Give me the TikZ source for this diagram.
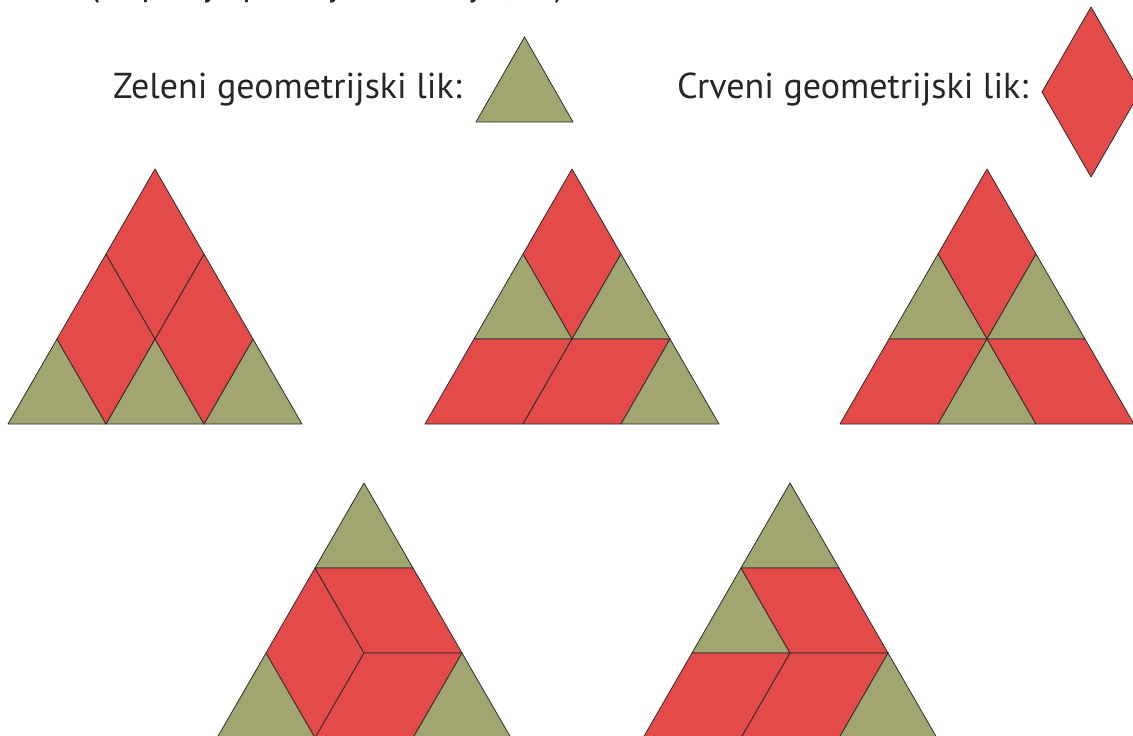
\documentclass[tikz,border=0pt]{standalone}
\usepackage{fontspec}
\setmainfont{PT Sans}
\definecolor{likred}{RGB}{227,74,72}
\definecolor{likgreen}{RGB}{161,166,112}
\definecolor{likedge}{RGB}{45,45,45}
\tikzset{
  redlik/.style={fill=likred, draw=likedge, line width=0.8pt, line join=round},
  greenlik/.style={fill=likgreen, draw=likedge, line width=0.8pt, line join=round},
  liktext/.style={font=\fontsize{36}{43}\selectfont, text=black!85, inner sep=0pt, anchor=base west},
}
% lattice points of one big triangle, bottom-left corner at (#1,#2)
\newcommand{\likgrid}[2]{%
  \foreach \r in {0,...,3}
    \foreach \i in {0,...,3}
      \coordinate (p\r\i) at ({#1+98*(\i+\r/2)},{#2-85*\r});
}
\begin{document}
\begin{tikzpicture}[x=1pt, y=-1pt]
  \useasboundingbox (0,0) rectangle (1133,736);

  % text
  \node[liktext] (uputa) at (89,-5) {(Napiši je pod njim i za njih, ...)};
  \node[liktext] (zeleni) at (113,98) {Zeleni geometrijski lik:};
  \node[liktext] (crveni) at (677,98) {Crveni geometrijski lik:};

  % legend
  \draw[greenlik] (476,122) -- (573,122) -- (524.5,37) -- cycle;
  \draw[redlik] (1091,7) -- (1042,92) -- (1091,177) -- (1140,92) -- cycle;

  % first triangle
  \likgrid{8}{424}
  \draw[greenlik] (p00) -- (p01) -- (p10) -- cycle;
  \draw[greenlik] (p01) -- (p02) -- (p11) -- cycle;
  \draw[greenlik] (p02) -- (p03) -- (p12) -- cycle;
  \draw[redlik] (p01) -- (p10) -- (p20) -- (p11) -- cycle;
  \draw[redlik] (p02) -- (p11) -- (p21) -- (p12) -- cycle;
  \draw[redlik] (p11) -- (p20) -- (p30) -- (p21) -- cycle;

  % second triangle
  \likgrid{425}{424}
  \draw[redlik] (p11) -- (p20) -- (p30) -- (p21) -- cycle;
  \draw[greenlik] (p10) -- (p11) -- (p20) -- cycle;
  \draw[greenlik] (p11) -- (p12) -- (p21) -- cycle;
  \draw[redlik] (p00) -- (p01) -- (p11) -- (p10) -- cycle;
  \draw[redlik] (p01) -- (p02) -- (p12) -- (p11) -- cycle;
  \draw[greenlik] (p02) -- (p03) -- (p12) -- cycle;

  % third triangle
  \likgrid{840}{424}
  \draw[redlik] (p11) -- (p20) -- (p30) -- (p21) -- cycle;
  \draw[greenlik] (p10) -- (p11) -- (p20) -- cycle;
  \draw[greenlik] (p11) -- (p12) -- (p21) -- cycle;
  \draw[redlik] (p00) -- (p01) -- (p11) -- (p10) -- cycle;
  \draw[greenlik] (p01) -- (p02) -- (p11) -- cycle;
  \draw[redlik] (p02) -- (p03) -- (p12) -- (p11) -- cycle;

  % fourth triangle
  \likgrid{217}{738}
  \draw[greenlik] (p20) -- (p21) -- (p30) -- cycle;
  \draw[redlik] (p20) -- (p10) -- (p01) -- (p11) -- cycle;
  \draw[redlik] (p20) -- (p21) -- (p12) -- (p11) -- cycle;
  \draw[redlik] (p11) -- (p12) -- (p02) -- (p01) -- cycle;
  \draw[greenlik] (p00) -- (p01) -- (p10) -- cycle;
  \draw[greenlik] (p02) -- (p03) -- (p12) -- cycle;

  % fifth triangle
  \likgrid{643}{738}
  \draw[greenlik] (p20) -- (p21) -- (p30) -- cycle;
  \draw[greenlik] (p10) -- (p11) -- (p20) -- cycle;
  \draw[redlik] (p20) -- (p21) -- (p12) -- (p11) -- cycle;
  \draw[redlik] (p00) -- (p01) -- (p11) -- (p10) -- cycle;
  \draw[redlik] (p01) -- (p02) -- (p12) -- (p11) -- cycle;
  \draw[greenlik] (p02) -- (p03) -- (p12) -- cycle;
\end{tikzpicture}
\end{document}
